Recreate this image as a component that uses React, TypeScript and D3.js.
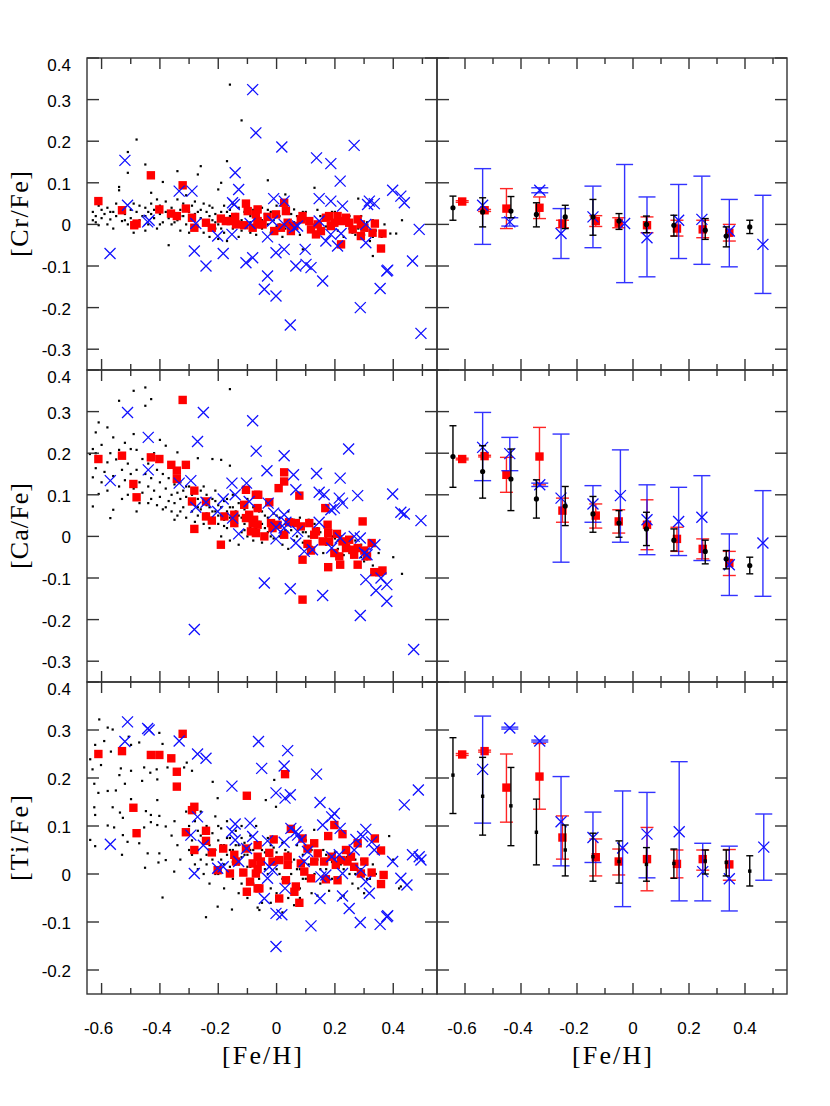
import React from "react";
import * as d3 from "d3";

// ---------- axes ----------
const xDomLeft: [number, number] = [-0.65, 0.55];
const xDomRight: [number, number] = [-0.7, 0.55];
const xMajorTicks = [-0.6, -0.4, -0.2, 0, 0.2, 0.4];
const xMinorTicks = [-0.5, -0.3, -0.1, 0.1, 0.3, 0.5];
const yDomCr: [number, number] = [-0.35, 0.4];
const yDomCa: [number, number] = [-0.35, 0.4];
const yDomTi: [number, number] = [-0.25, 0.4];
const yTicksCr = [-0.3, -0.2, -0.1, 0, 0.1, 0.2, 0.3, 0.4];
const yTicksCa = [-0.3, -0.2, -0.1, 0, 0.1, 0.2, 0.3, 0.4];
const yTicksTi = [-0.2, -0.1, 0, 0.1, 0.2, 0.3, 0.4];
const yLabels = ["[Cr/Fe]", "[Ca/Fe]", "[Ti/Fe]"];
const xLabel = "[Fe/H]";

// ---------- left panels: individual stars [Fe/H], [X/Fe] ----------
const crBlack: [number, number][] = [
  [-0.63,0.01],[-0.63,0.03],[-0.62,0.005],[-0.62,0.02],[-0.61,0.045],[-0.61,-0.002],[-0.6,0.015],[-0.6,0.035],[-0.59,0.025],[-0.58,0.0],[-0.58,0.04],[-0.57,0.012],[-0.56,0.03],[-0.56,-0.01],[-0.55,0.02],[-0.55,0.05],[-0.54,0.09],[-0.54,0.082],[-0.53,0.008],[-0.53,0.04],[-0.52,0.025],[-0.51,0.174],[-0.51,0.124],[-0.51,0.0],[-0.5,0.035],[-0.5,0.015],[-0.49,0.05],[-0.49,-0.02],[-0.48,0.204],[-0.48,0.03],[-0.47,0.01],[-0.47,0.045],[-0.46,0.02],[-0.45,0.144],[-0.45,0.04],[-0.45,-0.015],[-0.44,0.03],[-0.44,0.0],[-0.43,0.076],[-0.43,0.05],[-0.42,0.015],[-0.42,0.035],[-0.41,0.06],[-0.41,-0.01],[-0.4,0.025],[-0.4,0.045],[-0.39,0.102],[-0.39,0.005],[-0.38,0.03],[-0.38,0.055],[-0.37,-0.05],[-0.37,0.015],[-0.36,0.04],[-0.36,0.0],[-0.35,0.025],[-0.34,0.128],[-0.34,0.06],[-0.34,0.01],[-0.33,0.035],[-0.33,-0.015],[-0.32,0.05],[-0.32,0.02],[-0.31,0.0],[-0.31,0.07],[-0.3,0.03],[-0.3,-0.02],[-0.29,0.045],[-0.29,0.01],[-0.28,0.025],[-0.28,0.055],[-0.27,0.12],[-0.27,-0.005],[-0.26,0.14],[-0.26,0.035],[-0.26,0.015],[-0.25,-0.02],[-0.25,0.05],[-0.24,0.0],[-0.24,0.03],[-0.23,0.02],[-0.23,-0.03],[-0.22,0.04],[-0.22,0.01],[-0.21,-0.01],[-0.21,0.025],[-0.2,0.084],[-0.2,0.0],[-0.2,-0.035],[-0.19,0.1],[-0.19,0.03],[-0.19,0.015],[-0.18,-0.02],[-0.18,0.045],[-0.17,0.152],[-0.17,0.005],[-0.17,-0.04],[-0.16,0.336],[-0.16,0.02],[-0.16,0.035],[-0.15,-0.01],[-0.15,0.05],[-0.14,0.0],[-0.14,0.025],[-0.13,-0.03],[-0.13,0.04],[-0.12,0.25],[-0.12,0.01],[-0.12,-0.015],[-0.11,0.03],[-0.1,0.0],[-0.1,0.05],[-0.09,-0.02],[-0.09,0.02],[-0.08,0.035],[-0.07,0.005],[-0.07,-0.025],[-0.06,0.015],[-0.05,0.04],[-0.05,-0.01],[-0.04,0.025],[-0.03,0.106],[-0.03,0.0],[-0.02,-0.02],[-0.02,0.03],[-0.01,0.01],[0.0,0.045],[0.0,-0.005],[0.01,0.02],[0.02,-0.03],[0.03,0.072],[0.03,0.01],[0.04,0.03],[0.05,-0.015],[0.06,0.036],[0.06,0.005],[0.07,0.02],[0.08,-0.025],[0.09,-0.06],[0.09,0.01],[0.1,0.03],[0.11,-0.01],[0.12,0.015],[0.13,0.088],[0.13,0.0],[0.14,0.035],[0.15,-0.02],[0.16,0.01],[0.17,0.025],[0.18,-0.01],[0.19,0.005],[0.2,0.03],[0.21,-0.015],[0.22,0.015],[0.23,-0.03],[0.24,0.0],[0.25,0.02],[0.26,-0.02],[0.27,0.01],[0.28,0.062],[0.28,-0.01],[0.29,0.02],[0.3,-0.025],[0.31,0.005],[0.32,-0.04],[0.33,-0.076],[0.33,0.01],[0.34,-0.015],[0.36,-0.03],[0.37,0.0],[0.39,-0.022],[0.41,-0.022],[0.43,0.01],
  [-0.35,0.005],[-0.33,0.02],[-0.31,0.04],[-0.29,-0.005],[-0.27,0.03],[-0.25,0.01],[-0.23,0.045],[-0.21,0.005],[-0.19,-0.01],[-0.17,0.03],[-0.15,0.015],[-0.13,0.005],[-0.11,0.045],[-0.09,0.005],[-0.07,0.03],[-0.05,0.01],[-0.03,0.035],[-0.01,-0.01],[0.01,0.0],[0.03,-0.01],[0.05,0.025],[0.07,-0.005],[0.09,0.03],[0.11,0.01],[0.13,-0.02],[0.15,0.02],[0.17,-0.005],[0.19,0.03],[0.21,0.01],[0.23,0.02],[0.25,-0.01],[0.27,-0.025],[0.29,0.0],[0.31,-0.015],[0.33,-0.03],[-0.45,0.02],[-0.52,0.01],[-0.57,0.03],[-0.4,0.0],[-0.43,0.025]
];
const crRed: [number, number][] = [
  [-0.611,0.056],[-0.53,0.034],[-0.431,0.118],[-0.488,-0.002],[-0.48,0.002],[-0.402,0.036],[-0.362,0.026],[-0.342,0.02],[-0.322,0.094],[-0.311,0.038],[-0.29,0.016],[-0.282,-0.008],[-0.242,0.004],[-0.222,-0.008],[-0.191,0.014],[-0.174,0.008],[-0.142,0.018],[-0.139,0.0],[-0.111,-0.002],[-0.105,0.05],[-0.099,0.032],[-0.071,0.024],[-0.065,0.0],[-0.082,-0.008],[-0.157,0.008],[-0.065,0.036],[-0.065,0.008],[-0.031,0.018],[-0.002,0.024],[0.026,0.052],[0.032,0.032],[0.015,-0.008],[0.038,0.004],[0.061,-0.004],[0.083,0.012],[0.089,0.02],[0.112,0.008],[0.118,-0.012],[0.135,-0.024],[0.141,0.0],[0.169,0.016],[0.18,0.02],[0.198,0.004],[0.209,0.02],[0.221,0.008],[0.221,-0.048],[0.238,0.016],[0.249,0.004],[0.261,-0.012],[0.278,0.012],[0.289,-0.028],[0.301,-0.008],[0.289,0.0],[0.329,-0.02],[0.337,0.002],[0.363,-0.022],[0.358,-0.058],[-0.048,0.0],[-0.008,-0.016],[0.049,-0.016],[0.152,-0.016],[0.186,-0.004]
];
const crBlue: [number, number][] = [
  [-0.082,0.324],[-0.071,0.22],[-0.52,0.154],[-0.511,0.046],[-0.442,0.006],[-0.437,0.01],[-0.571,-0.07],[-0.334,0.08],[-0.29,0.08],[-0.282,-0.064],[-0.277,0.002],[-0.242,-0.1],[-0.202,-0.028],[-0.183,-0.07],[-0.153,-0.024],[-0.151,0.052],[-0.142,0.124],[-0.13,0.084],[-0.145,0.048],[-0.105,-0.092],[-0.082,-0.08],[-0.091,0.002],
  [0.018,0.186],[0.266,0.19],[0.137,0.16],[0.186,0.146],[0.218,0.104],[0.398,0.082],[0.426,0.068],[0.438,0.052],[-0.01,0.062],[0.026,0.056],[0.146,0.062],[0.186,0.056],[0.226,0.044],[0.312,0.048],[0.335,0.05],[0.318,0.056],[-0.014,0.008],[0.026,0.0],[0.061,-0.008],[0.072,-0.004],[0.146,0.008],[0.186,-0.024],[0.221,-0.022],[0.169,-0.04],[0.209,-0.052],[0.306,0.0],[0.306,-0.044],[-0.031,-0.03],[0.489,-0.012],[0.466,-0.088],[0.098,-0.06],[-0.002,-0.068],[0.026,-0.06],[0.066,-0.1],[0.101,-0.096],[0.118,-0.104],[-0.031,-0.124],[-0.042,-0.156],[-0.002,-0.172],[0.158,-0.136],[0.378,-0.112],[0.381,-0.11],[0.355,-0.154],[0.287,-0.2],[0.047,-0.242],[0.495,-0.262]
];

const caBlack: [number, number][] = [
  [-0.64,0.198],[-0.63,0.142],[-0.63,0.21],[-0.63,0.072],[-0.62,0.2],[-0.62,0.164],[-0.62,0.25],[-0.61,0.274],[-0.61,0.102],[-0.61,0.18],[-0.6,0.13],[-0.6,0.22],[-0.59,0.155],[-0.58,0.262],[-0.58,0.178],[-0.58,0.11],[-0.57,0.044],[-0.57,0.2],[-0.56,0.238],[-0.56,0.064],[-0.56,0.145],[-0.55,0.185],[-0.54,0.326],[-0.54,0.208],[-0.54,0.12],[-0.53,0.16],[-0.53,0.09],[-0.52,0.225],[-0.52,0.135],[-0.51,0.175],[-0.51,0.1],[-0.5,0.15],[-0.5,0.21],[-0.49,0.35],[-0.49,0.246],[-0.49,0.115],[-0.48,0.208],[-0.48,0.16],[-0.47,0.08],[-0.47,0.13],[-0.46,0.186],[-0.46,0.105],[-0.45,0.358],[-0.45,0.314],[-0.45,0.15],[-0.44,0.12],[-0.44,0.175],[-0.43,0.33],[-0.43,0.09],[-0.43,0.14],[-0.42,0.2],[-0.42,0.11],[-0.41,0.16],[-0.41,0.075],[-0.4,0.232],[-0.4,0.13],[-0.4,0.095],[-0.39,0.15],[-0.39,0.065],[-0.38,0.218],[-0.38,0.115],[-0.37,0.085],[-0.37,0.14],[-0.36,0.1],[-0.36,0.06],[-0.35,0.125],[-0.35,0.08],[-0.34,0.202],[-0.34,0.105],[-0.34,0.05],[-0.33,0.09],[-0.33,0.13],[-0.32,0.07],[-0.32,0.11],[-0.31,0.045],[-0.31,0.095],[-0.3,0.08],[-0.3,0.12],[-0.29,0.06],[-0.29,0.1],[-0.28,0.035],[-0.28,0.075],[-0.27,0.188],[-0.27,0.09],[-0.27,0.05],[-0.26,0.065],[-0.26,0.11],[-0.25,0.03],[-0.25,0.08],[-0.24,0.055],[-0.24,0.1],[-0.23,0.07],[-0.23,0.02],[-0.22,0.186],[-0.22,0.09],[-0.22,0.045],[-0.21,0.06],[-0.21,0.11],[-0.2,0.03],[-0.2,0.075],[-0.19,0.184],[-0.19,0.05],[-0.19,0.0],[-0.18,0.085],[-0.18,0.04],[-0.17,0.06],[-0.17,0.02],[-0.16,0.354],[-0.16,0.17],[-0.16,0.07],[-0.16,-0.01],[-0.15,0.04],[-0.15,0.1],[-0.14,0.025],[-0.14,0.06],[-0.13,0.08],[-0.13,-0.02],[-0.12,0.045],[-0.12,0.01],[-0.11,0.065],[-0.11,0.03],[-0.1,0.0],[-0.1,0.09],[-0.09,0.05],[-0.09,0.02],[-0.08,0.07],[-0.08,-0.01],[-0.07,0.04],[-0.06,0.015],[-0.06,0.06],[-0.05,0.03],[-0.05,-0.015],[-0.04,0.05],[-0.03,0.01],[-0.03,0.08],[-0.02,0.035],[-0.01,-0.005],[-0.01,0.055],[0.0,0.02],[0.01,0.045],[0.02,-0.02],[0.02,0.01],[0.03,0.03],[0.04,0.06],[0.04,-0.03],[0.05,0.015],[0.06,0.04],[0.07,0.0],[0.08,0.025],[0.09,-0.015],[0.1,0.01],[0.11,0.04],[0.12,-0.025],[0.13,0.005],[0.14,0.02],[0.15,-0.01],[0.16,-0.04],[0.17,0.0],[0.18,0.015],[0.19,-0.02],[0.2,-0.005],[0.21,-0.03],[0.22,0.0],[0.23,-0.045],[0.24,-0.015],[0.25,-0.025],[0.26,-0.05],[0.27,-0.01],[0.28,-0.035],[0.29,-0.02],[0.3,-0.06],[0.31,-0.03],[0.32,-0.045],[0.33,-0.07],[0.35,-0.04],[0.37,-0.08],[0.4,-0.05],[0.43,-0.09],
  [-0.35,0.04],[-0.33,0.06],[-0.31,0.12],[-0.29,0.08],[-0.27,0.07],[-0.25,0.12],[-0.24,0.075],[-0.22,0.06],[-0.21,0.085],[-0.2,0.05],[-0.19,0.07],[-0.18,0.025],[-0.17,0.09],[-0.16,0.045],[-0.15,0.07],[-0.14,0.04],[-0.13,0.05],[-0.12,0.07],[-0.11,0.015],[-0.1,0.055],[-0.09,0.035],[-0.08,0.045],[-0.07,0.02],[-0.06,0.035],[-0.05,0.06],[-0.04,0.02],[-0.03,0.045],[-0.02,0.0],[-0.01,0.025],[0.0,0.05],[0.01,0.0],[0.03,0.015],[0.05,0.035],[0.06,-0.01],[0.08,0.045],[0.09,0.01],[0.11,0.0],[0.13,0.03],[0.15,0.01],[0.17,-0.02],[0.19,0.0],[0.21,-0.01],[0.23,-0.02],[0.25,-0.04],[0.27,-0.03],[0.29,-0.05],[0.31,-0.055],[-0.48,0.06],[-0.44,0.08],[-0.38,0.07]
];
const caRed: [number, number][] = [
  [-0.322,0.328],[-0.611,0.186],[-0.53,0.194],[-0.431,0.19],[-0.402,0.186],[-0.491,0.126],[-0.48,0.094],[-0.361,0.172],[-0.342,0.158],[-0.342,0.138],[-0.311,0.172],[-0.29,0.084],[-0.282,0.11],[-0.282,0.018],[-0.242,0.084],[-0.242,0.048],[-0.222,0.038],[-0.191,-0.02],[-0.179,0.048],[-0.145,0.052],[-0.145,0.032],[-0.111,0.076],[-0.105,0.112],[-0.105,0.044],[-0.094,0.052],[-0.088,0.012],[-0.077,0.04],[-0.071,0.1],[-0.082,0.032],
  [-0.063,0.1],[-0.025,0.082],[-0.065,0.068],[-0.065,0.028],[-0.071,0.008],[-0.042,0.0],[0.007,0.116],[0.026,0.154],[0.026,0.132],[0.078,0.098],[0.167,0.068],[-0.019,0.032],[-0.014,0.02],[0.003,0.028],[0.026,0.004],[0.043,0.034],[0.066,0.032],[0.083,0.024],[0.112,0.032],[0.129,0.004],[0.135,0.012],[0.106,-0.018],[0.118,-0.034],[0.089,-0.056],[0.089,-0.152],[0.158,-0.012],[0.175,0.028],[0.177,0.008],[0.18,-0.012],[0.177,-0.074],[0.198,-0.04],[0.207,0.006],[0.215,-0.048],[0.218,-0.068],[0.226,-0.012],[0.238,-0.028],[0.249,-0.008],[0.261,-0.032],[0.266,-0.044],[0.278,-0.028],[0.278,-0.068],[0.295,0.036],[0.301,-0.034],[0.31,-0.048],[0.326,-0.016],[0.335,-0.086],[0.352,-0.086],[0.363,-0.082]
];
const caBlue: [number, number][] = [
  [-0.511,0.298],[-0.251,0.298],[-0.082,0.278],[-0.44,0.238],[-0.271,0.228],[-0.07,0.205],[-0.57,0.134],[-0.44,0.16],[-0.334,0.128],[-0.294,0.134],[-0.277,0.07],[-0.242,0.082],[-0.202,0.06],[-0.183,0.09],[-0.153,0.128],[-0.142,0.1],[-0.151,0.044],[-0.13,0.006],[-0.103,0.128],[-0.094,0.084],[-0.282,-0.224],
  [0.026,0.194],[0.247,0.21],[-0.033,0.158],[0.058,0.148],[0.137,0.151],[0.218,0.14],[0.066,0.112],[0.146,0.106],[0.163,0.1],[0.215,0.092],[0.226,0.08],[0.278,0.098],[0.398,0.102],[0.426,0.058],[0.438,0.054],[0.495,0.038],[-0.029,0.08],[-0.01,0.056],[0.026,0.052],[0.032,0.034],[-0.002,0.022],[0.026,0.02],[-0.002,-0.006],[0.072,0.012],[0.066,-0.016],[0.095,-0.036],[0.123,-0.032],[0.146,0.034],[0.186,0.064],[0.198,0.068],[0.218,-0.004],[0.189,-0.028],[0.266,0.0],[0.287,-0.004],[0.301,-0.04],[0.31,-0.044],[0.337,-0.02],[-0.042,-0.112],[0.047,-0.126],[0.158,-0.142],[0.306,-0.104],[0.341,-0.13],[0.358,-0.1],[0.378,-0.116],[0.378,-0.156],[0.287,-0.19],[0.47,-0.272]
];

const tiBlack: [number, number][] = [
  [-0.608,0.322],[-0.579,0.305],[-0.562,0.301],[-0.622,0.269],[-0.591,0.277],[-0.507,0.286],[-0.471,0.274],[-0.499,0.269],[-0.402,0.294],[-0.391,0.271],[-0.639,0.239],[-0.631,0.218],[-0.602,0.227],[-0.568,0.255],[-0.534,0.22],[-0.499,0.215],[-0.454,0.222],[-0.433,0.211],[-0.411,0.218],[-0.374,0.222],[-0.317,0.222],[-0.308,0.232],[-0.29,0.215],[-0.539,0.206],[-0.461,0.194],[-0.409,0.197],[-0.625,0.188],[-0.611,0.169],[-0.579,0.173],[-0.551,0.174],[-0.52,0.188],[-0.219,0.192],[-0.202,0.158],[-0.409,0.154],[-0.499,0.156],[-0.625,0.139],[-0.562,0.139],[-0.537,0.128],[-0.527,0.117],[-0.622,0.123],[-0.448,0.131],[-0.431,0.123],[-0.402,0.121],[-0.431,0.108],[-0.454,0.097],[-0.409,0.102],[-0.38,0.099],[-0.579,0.101],[-0.557,0.097],[-0.639,0.071],[-0.622,0.058],[-0.527,0.081],[-0.511,0.067],[-0.53,0.04],[-0.471,0.064],[-0.442,0.043],[-0.402,0.043],[-0.451,0.013],[-0.405,0.024],[-0.38,0.029],[-0.351,0.005],[-0.391,-0.049],[-0.242,-0.09],[-0.202,-0.068],[-0.153,-0.074],[-0.059,-0.075],
  [-0.36,0.08],[-0.35,0.11],[-0.34,0.06],[-0.33,0.03],[-0.32,0.09],[-0.31,0.13],[-0.3,0.05],[-0.3,0.1],[-0.29,0.07],[-0.28,0.02],[-0.28,0.11],[-0.27,0.05],[-0.27,0.09],[-0.26,0.03],[-0.26,0.13],[-0.25,0.07],[-0.25,0.0],[-0.24,0.1],[-0.24,0.04],[-0.23,0.06],[-0.23,-0.02],[-0.22,0.085],[-0.22,0.03],[-0.21,0.12],[-0.21,0.05],[-0.2,0.0],[-0.2,0.07],[-0.19,0.095],[-0.19,0.03],[-0.18,-0.03],[-0.18,0.06],[-0.17,0.04],[-0.17,0.11],[-0.16,0.015],[-0.16,0.075],[-0.15,-0.01],[-0.15,0.05],[-0.14,0.09],[-0.14,0.02],[-0.13,0.06],[-0.13,-0.04],[-0.12,0.035],[-0.12,0.1],[-0.11,0.0],[-0.11,0.065],[-0.1,0.04],[-0.1,-0.05],[-0.09,0.08],[-0.09,0.015],[-0.08,-0.02],[-0.08,0.05],[-0.07,0.03],[-0.07,0.1],[-0.06,-0.01],[-0.06,0.06],[-0.05,0.02],[-0.05,-0.06],[-0.04,0.045],[-0.03,0.0],[-0.03,0.075],[-0.02,0.025],[-0.02,-0.03],[-0.01,0.055],[0.0,0.01],[0.0,-0.04],[0.01,0.035],[0.02,0.065],[0.02,-0.01],[0.03,0.02],[0.04,0.045],[0.04,-0.05],[0.05,0.0],[0.06,0.03],[0.06,-0.065],[0.07,0.06],[0.08,0.01],[0.08,-0.03],[0.09,0.04],[0.1,-0.01],[0.1,0.07],[0.11,0.02],[0.12,-0.04],[0.12,0.05],[0.13,0.0],[0.14,0.03],[0.15,-0.02],[0.16,0.05],[0.17,0.01],[0.18,-0.035],[0.19,0.025],[0.2,0.045],[0.21,-0.01],[0.22,0.02],[0.23,-0.045],[0.24,0.035],[0.25,0.0],[0.26,-0.02],[0.27,0.03],[0.28,-0.03],[0.29,0.01],[0.3,-0.04],[0.31,0.02],[0.32,-0.01],[0.34,0.0],[0.36,-0.02],[0.4,0.03],[0.42,-0.03],
  [-0.037,0.154],[-0.008,0.196],[-0.002,0.14],[0.129,0.092],[0.386,0.079],[0.426,-0.026],[-0.065,-0.07],
  [-0.29,0.04],[-0.27,0.01],[-0.26,0.08],[-0.24,0.02],[-0.22,0.05],[-0.21,0.0],[-0.2,0.1],[-0.19,0.06],[-0.18,0.02],[-0.17,0.075],[-0.16,0.05],[-0.15,0.025],[-0.14,0.06],[-0.13,0.02],[-0.12,0.075],[-0.11,0.04],[-0.1,0.015],[-0.09,0.05],[-0.08,0.025],[-0.07,0.065],[-0.06,0.02],[-0.05,0.05],[-0.04,0.01],[-0.03,0.04],[-0.02,0.06],[-0.01,0.02],[0.0,0.045],[0.01,0.0],[0.03,0.05],[0.05,0.025],[0.07,0.01],[0.09,-0.01],[0.11,0.045],[0.13,0.025],[0.15,0.01],[0.17,0.04],[0.19,-0.01],[0.21,0.03],[0.23,0.01],[0.25,0.04],[0.27,0.0],[0.29,0.03],[0.31,-0.01],[0.33,0.02],[-0.02,-0.06],[0.02,-0.08],[0.08,-0.05],[-0.12,-0.02],[0.14,-0.045],[0.22,-0.05]
];
const tiRed: [number, number][] = [
  [-0.611,0.25],[-0.53,0.256],[-0.431,0.248],[-0.402,0.248],[-0.361,0.241],[-0.322,0.292],[-0.342,0.213],[-0.342,0.182],[-0.491,0.138],[-0.48,0.085],[-0.29,0.133],[-0.282,0.14],[-0.311,0.087],[-0.282,0.05],[-0.242,0.09],[-0.242,0.069],[-0.222,0.045],[-0.202,0.008],[-0.183,0.053],[-0.16,0.001],[-0.145,0.04],[-0.139,0.026],[-0.114,0.003],[-0.105,0.053],[-0.102,0.163],[-0.091,-0.016],[-0.102,-0.037],[-0.082,0.022],[-0.071,0.001],[-0.065,-0.03],
  [0.029,0.208],[0.198,0.102],[0.177,0.079],[0.226,0.083],[0.337,0.074],[0.358,0.049],[0.049,0.094],[0.089,0.074],[0.129,0.064],[0.106,0.053],[0.278,0.064],[0.238,0.05],[-0.01,0.072],[-0.025,0.044],[-0.065,0.06],[-0.065,0.036],[-0.054,0.026],[-0.014,0.026],[0.009,0.029],[0.038,0.036],[0.038,0.019],[0.083,0.022],[0.095,0.005],[0.129,0.026],[0.141,0.043],[0.163,0.026],[0.189,0.036],[0.203,0.019],[0.221,0.029],[0.243,0.026],[0.255,0.036],[0.266,0.015],[0.289,0.001],[0.301,0.026],[0.326,0.003],[0.367,-0.002],[0.358,-0.021],[0.118,-0.009],[0.169,-0.011],[0.209,-0.013],[0.032,-0.013],[0.066,-0.026],[0.061,-0.037],[0.009,-0.051],[-0.059,-0.03],[0.078,-0.06],[-0.065,0.01]
];
const tiBlue: [number, number][] = [
  [-0.511,0.317],[-0.442,0.303],[-0.437,0.3],[-0.52,0.276],[-0.334,0.277],[-0.271,0.25],[-0.242,0.241],[-0.062,0.276],[-0.051,0.22],[-0.153,0.183],[-0.271,0.119],[-0.57,0.062],[-0.294,0.081],[-0.251,0.06],[-0.282,0.001],[-0.202,0.012],[-0.183,0.015],[-0.153,0.088],[-0.142,0.104],[-0.142,0.071],[-0.13,0.026],[-0.103,0.053],[-0.091,0.106],[-0.082,0.078],
  [0.038,0.257],[0.026,0.225],[0.137,0.208],[-0.002,0.169],[0.029,0.158],[0.047,0.165],[0.149,0.149],[0.189,0.119],[0.198,0.126],[0.158,0.102],[0.218,0.095],[0.486,0.175],[0.438,0.144],[0.306,0.093],[0.049,0.095],[0.066,0.088],[0.072,0.081],[-0.031,0.069],[0.026,0.066],[0.083,0.071],[0.272,0.072],[0.295,0.078],[0.326,0.067],[0.335,0.05],[0.266,0.05],[0.215,0.04],[0.189,0.036],[0.106,0.047],[0.095,0.026],[0.466,0.04],[0.489,0.036],[0.495,0.029],[0.398,0.026],[-0.025,0.015],[-0.031,-0.009],[-0.014,0.008],[0.029,-0.03],[0.152,-0.006],[0.169,-0.002],[0.226,0.001],[0.289,0.008],[0.306,-0.016],[0.426,-0.009],[0.447,-0.023],[-0.042,-0.051],[-0.002,-0.082],[0.018,-0.085],[0.149,-0.051],[0.226,-0.046],[0.249,-0.072],[0.318,-0.04],[0.118,-0.108],[0.287,-0.101],[0.355,-0.105],[0.378,-0.089],[0.381,-0.087],[-0.002,-0.151]
];

// ---------- right panels: binned means [Fe/H], mean, low end, high end ----------
type Bin = [number, number, number, number];
const crBinBlack: Bin[] = [
  [-0.643,0.04,0.01,0.068],[-0.537,0.03,-0.006,0.064],[-0.436,0.032,0.016,0.067],[-0.345,0.024,-0.006,0.052],[-0.242,0.018,-0.01,0.046],[-0.143,0.018,-0.026,0.06],[-0.05,0.008,-0.012,0.026],[0.048,0.0,-0.02,0.02],[0.146,-0.002,-0.028,0.022],[0.258,-0.014,-0.036,0.014],[0.333,-0.028,-0.054,-0.006],[0.417,-0.006,-0.022,0.01]
];
const crBinRed: Bin[] = [
  [-0.61,0.055,0.053,0.057],[-0.53,0.034,0.031,0.036],[-0.452,0.038,-0.01,0.086],[-0.334,0.04,0.014,0.066],[-0.252,0.002,-0.008,0.01],[-0.133,0.008,-0.005,0.021],[-0.051,0.004,-0.008,0.016],[0.05,-0.002,-0.02,0.018],[0.157,-0.01,-0.028,0.01],[0.249,-0.012,-0.032,0.01],[0.344,-0.02,-0.04,0.0]
];
const crBinBlue: Bin[] = [
  [-0.537,0.046,-0.048,0.134],[-0.44,0.006,-0.004,0.016],[-0.333,0.082,0.076,0.088],[-0.257,-0.022,-0.082,0.038],[-0.143,0.018,-0.056,0.092],[-0.03,0.002,-0.14,0.144],[0.05,-0.032,-0.126,0.066],[0.163,0.01,-0.082,0.096],[0.246,0.012,-0.096,0.116],[0.344,-0.016,-0.102,0.06],[0.464,-0.048,-0.166,0.07]
];
const caBinBlack: Bin[] = [
  [-0.643,0.192,0.118,0.266],[-0.537,0.156,0.092,0.218],[-0.436,0.138,0.062,0.21],[-0.345,0.09,0.044,0.136],[-0.242,0.073,0.026,0.12],[-0.143,0.054,0.01,0.096],[-0.05,0.032,-0.002,0.062],[0.048,0.018,-0.022,0.058],[0.146,-0.009,-0.035,0.018],[0.258,-0.036,-0.066,-0.009],[0.333,-0.054,-0.078,-0.034],[0.417,-0.07,-0.09,-0.05]
];
const caBinRed: Bin[] = [
  [-0.61,0.186,0.184,0.188],[-0.53,0.193,0.191,0.195],[-0.452,0.148,0.106,0.19],[-0.334,0.192,0.124,0.262],[-0.252,0.062,0.034,0.092],[-0.133,0.05,0.02,0.078],[-0.051,0.036,0.008,0.064],[0.05,0.028,-0.032,0.088],[0.157,-0.006,-0.036,0.022],[0.249,-0.03,-0.054,-0.006],[0.344,-0.064,-0.094,-0.036]
];
const caBinBlue: Bin[] = [
  [-0.537,0.214,0.134,0.298],[-0.44,0.199,0.158,0.238],[-0.333,0.124,0.12,0.128],[-0.257,0.092,-0.062,0.246],[-0.143,0.078,0.034,0.122],[-0.045,0.098,-0.014,0.208],[0.05,0.04,-0.044,0.124],[0.163,0.036,-0.046,0.118],[0.246,0.046,-0.058,0.146],[0.344,-0.068,-0.142,0.006],[0.464,-0.016,-0.144,0.11]
];
const tiBinBlack: Bin[] = [
  [-0.643,0.206,0.126,0.284],[-0.537,0.162,0.081,0.243],[-0.436,0.142,0.059,0.222],[-0.345,0.087,0.019,0.156],[-0.242,0.05,-0.004,0.102],[-0.143,0.036,-0.015,0.085],[-0.05,0.026,-0.019,0.069],[0.048,0.02,-0.015,0.055],[0.146,0.022,-0.009,0.052],[0.258,0.027,0.0,0.05],[0.333,0.024,-0.004,0.05],[0.417,0.006,-0.025,0.038]
];
const tiBinRed: Bin[] = [
  [-0.61,0.249,0.247,0.251],[-0.53,0.256,0.254,0.258],[-0.452,0.18,0.108,0.25],[-0.334,0.203,0.135,0.272],[-0.252,0.076,0.031,0.121],[-0.133,0.035,-0.004,0.073],[-0.051,0.026,-0.002,0.052],[0.05,0.031,-0.035,0.097],[0.157,0.021,-0.008,0.05],[0.249,0.031,0.008,0.05],[0.344,0.02,-0.013,0.051]
];
const tiBinBlue: Bin[] = [
  [-0.537,0.218,0.106,0.329],[-0.44,0.304,0.302,0.306],[-0.333,0.277,0.275,0.279],[-0.257,0.109,0.017,0.203],[-0.143,0.076,0.024,0.129],[-0.037,0.054,-0.068,0.173],[0.05,0.083,-0.008,0.17],[0.165,0.088,-0.056,0.234],[0.249,0.005,-0.056,0.064],[0.344,-0.01,-0.077,0.058],[0.467,0.056,-0.013,0.125]
];

// ---------- layout ----------
const W = 830;
const H = 1106;
const colX = [87, 437, 787];
const rowY = [58, 370, 682, 994];
const RED = "#ff0000";
const BLUE = "#1010ff";
const FRAME = "#333";
const tickFont = "'Liberation Sans', Arial, Helvetica, sans-serif";
const serif = "'Liberation Serif', 'Times New Roman', serif";
const SQ = 8.4;

const rowsDef = [
  { yDom: yDomCr, yTicks: yTicksCr, black: crBlack, red: crRed, blue: crBlue, bBlack: crBinBlack, bRed: crBinRed, bBlue: crBinBlue, blackSquare: false },
  { yDom: yDomCa, yTicks: yTicksCa, black: caBlack, red: caRed, blue: caBlue, bBlack: caBinBlack, bRed: caBinRed, bBlue: caBinBlue, blackSquare: false },
  { yDom: yDomTi, yTicks: yTicksTi, black: tiBlack, red: tiRed, blue: tiBlue, bBlack: tiBinBlack, bRed: tiBinRed, bBlue: tiBinBlue, blackSquare: true },
];

function Cross({ x, y, r, color }: { x: number; y: number; r: number; color: string }) {
  return (
    <path d={`M${x - r},${y - r}L${x + r},${y + r}M${x - r},${y + r}L${x + r},${y - r}`} stroke={color} strokeWidth={1.3} fill="none" />
  );
}

function ErrBar({ x, lo, hi, cap, color, opacity }: { x: number; lo: number; hi: number; cap: number; color: string; opacity?: number }) {
  return (
    <g stroke={color} strokeWidth={1.4} opacity={opacity ?? 1}>
      <line x1={x} x2={x} y1={lo} y2={hi} />
      <line x1={x - cap} x2={x + cap} y1={lo} y2={lo} />
      <line x1={x - cap} x2={x + cap} y1={hi} y2={hi} />
    </g>
  );
}

function Frame({ x0, x1, y0, y1, xs, ys, yTicks }: any) {
  const items: React.ReactNode[] = [];
  xMajorTicks.forEach((t, i) => {
    const x = xs(t);
    items.push(<line key={`xt${i}`} x1={x} x2={x} y1={y0} y2={y0 + 11} />);
    items.push(<line key={`xb${i}`} x1={x} x2={x} y1={y1} y2={y1 - 11} />);
  });
  xMinorTicks.forEach((t, i) => {
    const x = xs(t);
    items.push(<line key={`mt${i}`} x1={x} x2={x} y1={y0} y2={y0 + 6} />);
    items.push(<line key={`mb${i}`} x1={x} x2={x} y1={y1} y2={y1 - 6} />);
  });
  yTicks.forEach((t: number, i: number) => {
    const y = ys(t);
    items.push(<line key={`yl${i}`} x1={x0} x2={x0 + 12} y1={y} y2={y} />);
    items.push(<line key={`yr${i}`} x1={x1} x2={x1 - 12} y1={y} y2={y} />);
  });
  return (
    <g stroke={FRAME} strokeWidth={1.4} fill="none">
      {items}
      <rect x={x0} y={y0} width={x1 - x0} height={y1 - y0} />
    </g>
  );
}

export default function App() {
  return (
    <svg width={W} height={H} viewBox={`0 0 ${W} ${H}`} style={{ position: "absolute", left: 0, top: 0, background: "#fff" }}>
      <rect x={0} y={0} width={W} height={H} fill="#fff" />
      {rowsDef.map((row, ri) => {
        const y0 = rowY[ri];
        const y1 = rowY[ri + 1];
        const ys = d3.scaleLinear().domain(row.yDom).range([y1, y0]);
        const xsL = d3.scaleLinear().domain(xDomLeft).range([colX[0], colX[1]]);
        const xsR = d3.scaleLinear().domain(xDomRight).range([colX[1], colX[2]]);
        const midY = (y0 + y1) / 2;
        return (
          <g key={ri}>
            {/* left: individual stars */}
            <g fill="#000">
              {row.black.map((d, i) => (
                <rect key={i} x={xsL(d[0]) - 1.1} y={ys(d[1]) - 1.1} width={2.2} height={2.2} />
              ))}
            </g>
            <g fill={RED}>
              {row.red.map((d, i) => (
                <rect key={i} x={xsL(d[0]) - SQ / 2} y={ys(d[1]) - SQ / 2} width={SQ} height={SQ} />
              ))}
            </g>
            <g>
              {row.blue.map((d, i) => (
                <Cross key={i} x={xsL(d[0])} y={ys(d[1])} r={5.5} color={BLUE} />
              ))}
            </g>
            {/* right: binned means */}
            <g>
              {row.bRed.map((d, i) => (
                <g key={i}>
                  <ErrBar x={xsR(d[0])} lo={ys(d[2])} hi={ys(d[3])} cap={6.5} color={RED} opacity={0.85} />
                  <rect x={xsR(d[0]) - SQ / 2} y={ys(d[1]) - SQ / 2} width={SQ} height={SQ} fill={RED} />
                </g>
              ))}
              {row.bBlue.map((d, i) => (
                <g key={i}>
                  <ErrBar x={xsR(d[0])} lo={ys(d[2])} hi={ys(d[3])} cap={8.5} color={BLUE} opacity={0.85} />
                  <Cross x={xsR(d[0])} y={ys(d[1])} r={5.5} color={BLUE} />
                </g>
              ))}
              {row.bBlack.map((d, i) => (
                <g key={i}>
                  <ErrBar x={xsR(d[0])} lo={ys(d[2])} hi={ys(d[3])} cap={3.5} color="#000" />
                  {row.blackSquare ? (
                    <rect x={xsR(d[0]) - 1.7} y={ys(d[1]) - 1.7} width={3.4} height={3.4} fill="#000" />
                  ) : (
                    <circle cx={xsR(d[0])} cy={ys(d[1])} r={2.6} fill="#000" />
                  )}
                </g>
              ))}
            </g>
            <Frame x0={colX[0]} x1={colX[1]} y0={y0} y1={y1} xs={xsL} ys={ys} yTicks={row.yTicks} />
            <Frame x0={colX[1]} x1={colX[2]} y0={y0} y1={y1} xs={xsR} ys={ys} yTicks={row.yTicks} />
            {/* y tick labels */}
            <g fontFamily={tickFont} fontSize={17} fill="#000" textAnchor="end">
              {row.yTicks.map((t, i) => (
                <text key={i} x={71} y={Math.max(ys(t) + 7, y0 + 13)}>{String(t)}</text>
              ))}
            </g>
            <text
              transform={`translate(28,${midY}) rotate(-90)`}
              textAnchor="middle"
              fontFamily={serif}
              fontSize={26}
              textLength={86}
              lengthAdjust="spacing"
              fill="#000"
            >
              {yLabels[ri]}
            </text>
          </g>
        );
      })}
      {/* x tick labels and axis titles */}
      {[xDomLeft, xDomRight].map((dom, ci) => {
        const xs = d3.scaleLinear().domain(dom).range([colX[ci], colX[ci + 1]]);
        return (
          <g key={ci}>
            <g fontFamily={tickFont} fontSize={17} fill="#000" textAnchor="middle">
              {xMajorTicks.map((t, i) => (
                <text key={i} x={xs(t) - (t < 0 ? 3 : 0)} y={1034}>{String(t)}</text>
              ))}
            </g>
            <text x={(colX[ci] + colX[ci + 1]) / 2} y={1064} textAnchor="middle" fontFamily={serif} fontSize={26} textLength={80} lengthAdjust="spacing" fill="#000">
              {xLabel}
            </text>
          </g>
        );
      })}
    </svg>
  );
}
